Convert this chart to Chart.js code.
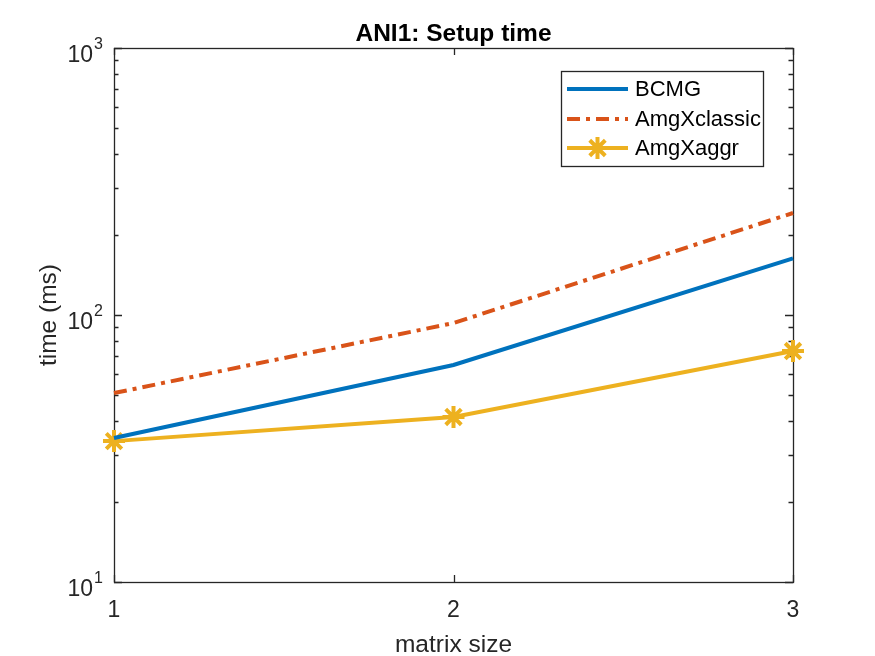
<!DOCTYPE html>
<html><head><meta charset="utf-8">
<script src="https://cdn.jsdelivr.net/npm/chart.js@4"></script>
<style>html,body{margin:0;padding:0;background:#fff;}#wrap{width:875px;height:656px;}</style>
</head><body><div id="wrap"><canvas id="c" width="875" height="656"></canvas></div>
<script>
const matrixSize = [1, 2, 3];
const bcmg = [34.6, 65, 163];
const amgxClassic = [51, 93.3, 241];
const amgxAggr = [33.7, 41.5, 73.3];
const xTicks = [1, 2, 3];
const yMajor = [10, 100, 1000];
const seriesNames = ['BCMG', 'AmgXclassic', 'AmgXaggr'];

const FONT = '"Liberation Sans", Arial, sans-serif';
const pts = arr => arr.map((v, i) => ({x: matrixSize[i], y: v}));

const axesPlugin = {
  id: 'matlabAxes',
  beforeDatasetsDraw(chart) {
    const ctx = chart.ctx, a = chart.chartArea;
    const xs = chart.scales.x, ys = chart.scales.y;
    ctx.save();
    ctx.strokeStyle = '#262626';
    ctx.lineWidth = 1.3;
    ctx.strokeRect(Math.round(a.left) + 0.5, Math.round(a.top) + 0.5, Math.round(a.right - a.left), Math.round(a.bottom - a.top));
    xTicks.forEach(v => {
      const px = Math.round(xs.getPixelForValue(v)) + 0.5;
      ctx.beginPath();
      ctx.moveTo(px, a.bottom); ctx.lineTo(px, a.bottom - 7);
      ctx.moveTo(px, a.top); ctx.lineTo(px, a.top + 7);
      ctx.stroke();
    });
    for (let d = 0; d < yMajor.length; d++) {
      const base = yMajor[d];
      for (let m = 1; m <= 9; m++) {
        const v = base * m;
        if (v > yMajor[yMajor.length - 1]) break;
        const py = Math.round(ys.getPixelForValue(v)) + 0.5;
        const len = m === 1 ? 8 : 4.5;
        ctx.beginPath();
        ctx.moveTo(a.left, py); ctx.lineTo(a.left + len, py);
        ctx.moveTo(a.right, py); ctx.lineTo(a.right - len, py);
        ctx.stroke();
      }
    }
    ctx.fillStyle = '#262626';
    ctx.font = '23px ' + FONT;
    ctx.textAlign = 'center';
    ctx.textBaseline = 'alphabetic';
    xTicks.forEach(v => {
      ctx.fillText(String(v), xs.getPixelForValue(v), 617);
    });
    yMajor.forEach(v => {
      const py = ys.getPixelForValue(v);
      const exp = String(Math.round(Math.log10(v)));
      ctx.font = '16px ' + FONT;
      const wSup = ctx.measureText(exp).width;
      ctx.font = '23px ' + FONT;
      const wBase = ctx.measureText('10').width;
      const right = a.left - 11;
      ctx.textAlign = 'left';
      ctx.fillText('10', right - wSup - wBase - 1, py + 14);
      ctx.font = '16px ' + FONT;
      ctx.fillText(exp, right - wSup, py + 1);
    });
    ctx.font = '24.5px ' + FONT;
    ctx.textAlign = 'center';
    ctx.fillText('matrix size', (a.left + a.right) / 2, 652);
    ctx.save();
    ctx.translate(56, (a.top + a.bottom) / 2);
    ctx.rotate(-Math.PI / 2);
    ctx.fillText('time (ms)', 0, 0);
    ctx.restore();
    ctx.fillStyle = '#000';
    ctx.font = 'bold 24.5px ' + FONT;
    ctx.fillText('ANI1: Setup time', (a.left + a.right) / 2, 41);
    ctx.restore();
  },
  afterDraw(chart) {
    const ctx = chart.ctx;
    const box = {l: 561, t: 71, r: 763, b: 166};
    ctx.save();
    ctx.fillStyle = '#fff';
    ctx.fillRect(box.l, box.t, box.r - box.l, box.b - box.t);
    ctx.strokeStyle = '#262626';
    ctx.lineWidth = 1.3;
    ctx.strokeRect(box.l + 0.5, box.t + 0.5, box.r - box.l, box.b - box.t);
    const rows = [89, 119, 148];
    chart.data.datasets.forEach((ds, i) => {
      const y = rows[i];
      ctx.strokeStyle = ds.borderColor;
      ctx.lineWidth = ds.borderWidth;
      ctx.setLineDash(ds.borderDash || []);
      ctx.beginPath();
      ctx.moveTo(567, y); ctx.lineTo(628, y);
      ctx.stroke();
      ctx.setLineDash([]);
      if (ds.pointRadius > 0) {
        ctx.strokeStyle = ds.pointBorderColor;
        ctx.fillStyle = ds.pointBorderColor;
        Chart.helpers.drawPoint(ctx, {pointStyle: ds.pointStyle, radius: ds.pointRadius, rotation: 0, borderWidth: ds.pointBorderWidth}, 597.5, y);
      }
      ctx.fillStyle = '#000';
      ctx.font = '22px ' + FONT;
      ctx.textAlign = 'left';
      ctx.textBaseline = 'middle';
      ctx.fillText(ds.label, 635, y + 1);
    });
    ctx.restore();
  }
};

new Chart(document.getElementById('c'), {
  type: 'line',
  data: {
    datasets: [
      {label: seriesNames[0], data: pts(bcmg), borderColor: '#0072BD', backgroundColor: '#0072BD', borderWidth: 4, pointRadius: 0, tension: 0, clip: false},
      {label: seriesNames[1], data: pts(amgxClassic), borderColor: '#D95319', backgroundColor: '#D95319', borderWidth: 4, borderDash: [13, 6, 4, 6], pointRadius: 0, tension: 0, clip: false},
      {label: seriesNames[2], data: pts(amgxAggr), borderColor: '#EDB120', backgroundColor: '#EDB120', borderWidth: 4, pointStyle: 'star', pointRadius: 11, pointBorderWidth: 4, pointBorderColor: '#EDB120', pointBackgroundColor: '#EDB120', tension: 0, clip: false}
    ]
  },
  plugins: [axesPlugin],
  options: {
    responsive: false,
    animation: false,
    devicePixelRatio: 1,
    layout: {padding: {left: 114, right: 82, top: 48, bottom: 74}, autoPadding: false},
    plugins: {legend: {display: false}, title: {display: false}, tooltip: {enabled: false}},
    scales: {
      x: {type: 'linear', min: 1, max: 3, display: false},
      y: {type: 'logarithmic', min: 10, max: 1000, display: false}
    }
  }
});
</script>
</body></html>
